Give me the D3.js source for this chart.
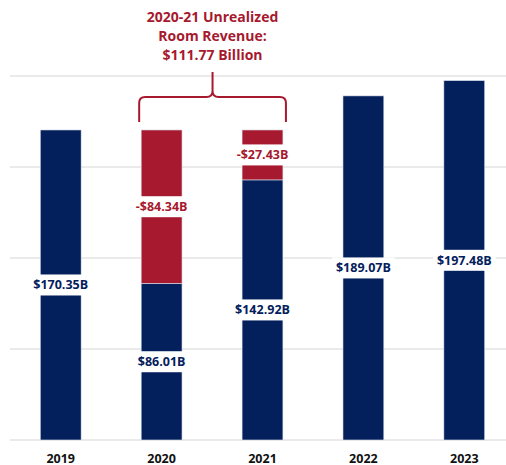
<!DOCTYPE html>
<html>
<head>
<meta charset="utf-8">
<script src="https://cdn.jsdelivr.net/npm/d3@7"></script>
<style>
  body { margin: 0; background: #fff; }
  text { font-family: "Open Sans", "DejaVu Sans", sans-serif; font-weight: 700; }
</style>
</head>
<body>
<div id="chart"></div>
<script>
// Data
const years = ["2019", "2020", "2021", "2022", "2023"];
const revenue = [170.35, 86.01, 142.92, 189.07, 197.48];
const lost = [0, 84.34, 27.43, 0, 0];
const revenueLabels = ["$170.35B", "$86.01B", "$142.92B", "$189.07B", "$197.48B"];
const lostLabels = ["", "-$84.34B", "-$27.43B", "", ""];
const yTicks = [0, 50, 100, 150, 200];
const titleLines = ["2020-21 Unrealized", "Room Revenue:", "$111.77 Billion"];

const width = 506,
    height = 465,
    margin = ({top: 76, right: 0, bottom: 25, left: 10});

const navy = "#03205c",
    red = "#a6192e";

const svg = d3.select("#chart")
    .append("svg")
    .attr("width", width)
    .attr("height", height);

// Scales
const x = d3.scaleBand()
    .domain(years)
    .range([margin.left, 515])
    .paddingInner(0.595)
    .paddingOuter(0.3);

const y = d3.scaleLinear()
    .domain([0, 200])
    .range([height - margin.bottom, margin.top]);

// Gridlines
svg.append("g")
    .selectAll("line")
    .data(yTicks)
    .join("line")
    .attr("x1", margin.left)
    .attr("x2", width)
    .attr("y1", d => y(d))
    .attr("y2", d => y(d))
    .attr("stroke", "#e3e3e3")
    .attr("stroke-width", 1.5);

// Build segments
const segs = [];
years.forEach((yr, i) => {
    segs.push({year: yr, y0: 0, y1: revenue[i], color: navy, label: revenueLabels[i]});
    if (lost[i] > 0) {
        segs.push({year: yr, y0: revenue[i], y1: revenue[i] + lost[i], color: red, label: lostLabels[i]});
    }
});

// Bars
svg.append("g")
    .selectAll("rect")
    .data(segs)
    .join("rect")
    .attr("x", d => x(d.year))
    .attr("width", x.bandwidth())
    .attr("y", d => y(d.y1))
    .attr("height", d => y(d.y0) - y(d.y1))
    .attr("fill", d => d.color)
    .attr("stroke", "#dfe3ee")
    .attr("stroke-width", 0.6);

// Value labels with white boxes
const labels = svg.append("g")
    .selectAll("g")
    .data(segs)
    .join("g")
    .attr("transform", d => `translate(${x(d.year) + x.bandwidth() / 2},${y((d.y0 + d.y1) / 2)})`);

labels.append("text")
    .text(d => d.label)
    .attr("text-anchor", "middle")
    .attr("dominant-baseline", "central")
    .attr("font-size", "12.5px")
    .attr("fill", d => d.color)
    .each(function () {
        const bb = this.getBBox();
        d3.select(this.parentNode).insert("rect", "text")
            .attr("x", bb.x - 4)
            .attr("y", -10.5)
            .attr("width", bb.width + 8)
            .attr("height", 21)
            .attr("fill", "#fff");
    });

// X axis labels
svg.append("g")
    .selectAll("text")
    .data(years)
    .join("text")
    .attr("x", d => x(d) + x.bandwidth() / 2)
    .attr("y", 458)
    .attr("text-anchor", "middle")
    .attr("dominant-baseline", "central")
    .attr("font-size", "12.5px")
    .attr("fill", "#111")
    .text(d => d);

// Brace over 2020-2021
const bx0 = x("2020") - 2,
    bx1 = x("2021") + x.bandwidth() + 3,
    bm = (bx0 + bx1) / 2,
    by0 = y(revenue[0]) - 8,
    by1 = 97,
    byTop = 72,
    r = 6;

const brace = d3.path();
brace.moveTo(bx0, by0);
brace.lineTo(bx0, by1 + r);
brace.quadraticCurveTo(bx0, by1, bx0 + r, by1);
brace.lineTo(bm - r, by1);
brace.quadraticCurveTo(bm, by1, bm, by1 - r);
brace.lineTo(bm, byTop);
brace.moveTo(bm, by1 - r);
brace.quadraticCurveTo(bm, by1, bm + r, by1);
brace.lineTo(bx1 - r, by1);
brace.quadraticCurveTo(bx1, by1, bx1, by1 + r);
brace.lineTo(bx1, by0);

svg.append("path")
    .attr("d", brace.toString())
    .attr("fill", "none")
    .attr("stroke", red)
    .attr("stroke-width", 2);

// Annotation title
svg.append("g")
    .selectAll("text")
    .data(titleLines)
    .join("text")
    .attr("x", bm)
    .attr("y", (d, i) => 16 + i * 19)
    .attr("text-anchor", "middle")
    .attr("dominant-baseline", "central")
    .attr("font-size", "14px")
    .attr("fill", red)
    .text(d => d);
</script>
</body>
</html>
